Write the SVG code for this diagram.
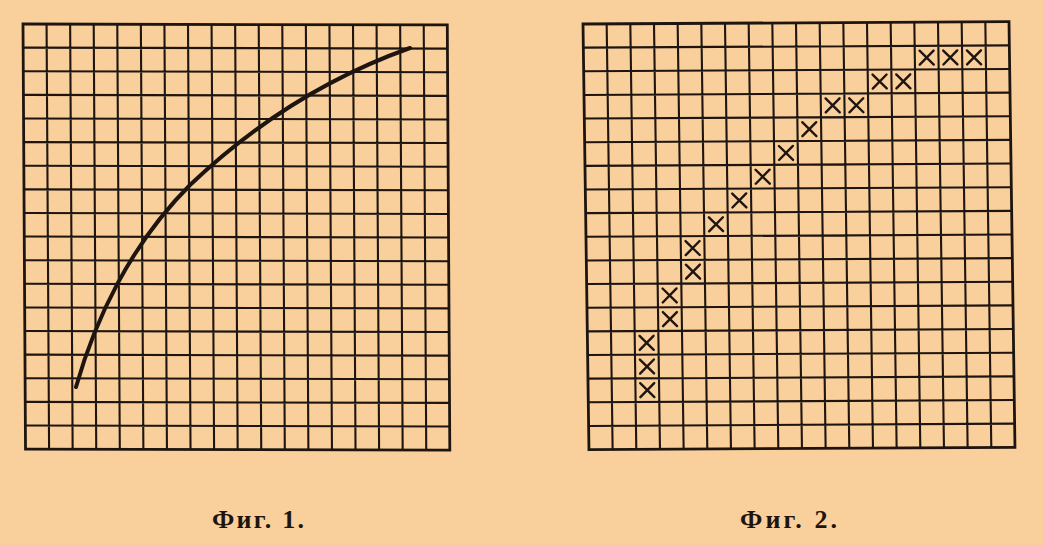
<svg xmlns="http://www.w3.org/2000/svg" xmlns:xlink="http://www.w3.org/1999/xlink" width="1043" height="545" viewBox="0 0 1043 545">
<style>
.grid{fill:none;stroke:#1e1510;stroke-width:2.1;}
.frame{fill:none;stroke:#1e1510;stroke-width:2.8;}
.cross{fill:none;stroke:#1e1510;stroke-width:2.4;stroke-linecap:round;}
.curve{fill:none;stroke:#1e1510;stroke-width:4;stroke-linecap:round;}
.cap{font-family:"Liberation Serif","DejaVu Serif",serif;font-weight:bold;font-size:26px;fill:#1e1510;}
</style>
<defs>
<path id="gridlines" d="M23.67,0V426M47.33,0V426M71,0V426M94.67,0V426M118.33,0V426M142,0V426M165.67,0V426M189.33,0V426M213,0V426M236.67,0V426M260.33,0V426M284,0V426M307.67,0V426M331.33,0V426M355,0V426M378.67,0V426M402.33,0V426M0,23.67H426M0,47.33H426M0,71H426M0,94.67H426M0,118.33H426M0,142H426M0,165.67H426M0,189.33H426M0,213H426M0,236.67H426M0,260.33H426M0,284H426M0,307.67H426M0,331.33H426M0,355H426M0,378.67H426M0,402.33H426"/>
<path id="x" d="M-7,-7L7,7M7,-7L-7,7"/>
</defs>
<rect x="0" y="0" width="1043" height="545" fill="#F9D09B"/>
<g id="fig1">
<g transform="matrix(0.996,0.0023,0.0059,0.998,23,24)">
<use xlink:href="#gridlines" class="grid"/>
<rect x="0" y="0" width="426" height="426" class="frame"/>
</g>
</g>
<g id="connectors">
<path class="curve" d="M76,387 C95,320 130,245 190,185 C250,128 320,80 410,48"/>
</g>
<g id="fig2">
<g transform="matrix(1.0,-0.0054,0.014,0.999,583,24)">
<use xlink:href="#gridlines" class="grid"/>
<rect x="0" y="0" width="426" height="426" class="frame"/>
<g class="cross">
<use xlink:href="#x" x="343.17" y="35.5"/>
<use xlink:href="#x" x="366.83" y="35.5"/>
<use xlink:href="#x" x="390.5" y="35.5"/>
<use xlink:href="#x" x="295.83" y="59.17"/>
<use xlink:href="#x" x="319.5" y="59.17"/>
<use xlink:href="#x" x="248.5" y="82.83"/>
<use xlink:href="#x" x="272.17" y="82.83"/>
<use xlink:href="#x" x="224.83" y="106.5"/>
<use xlink:href="#x" x="201.17" y="130.17"/>
<use xlink:href="#x" x="177.5" y="153.83"/>
<use xlink:href="#x" x="153.83" y="177.5"/>
<use xlink:href="#x" x="130.17" y="201.17"/>
<use xlink:href="#x" x="106.5" y="224.83"/>
<use xlink:href="#x" x="106.5" y="248.5"/>
<use xlink:href="#x" x="82.83" y="272.17"/>
<use xlink:href="#x" x="82.83" y="295.83"/>
<use xlink:href="#x" x="59.17" y="319.5"/>
<use xlink:href="#x" x="59.17" y="343.17"/>
<use xlink:href="#x" x="59.17" y="366.83"/>
</g>
</g>
</g>
<g id="caption1"><text class="cap" x="212" y="528" textLength="92" lengthAdjust="spacing">Фиг. 1.</text></g>
<g id="caption2"><text class="cap" x="740" y="528" textLength="97" lengthAdjust="spacing">Фиг. 2.</text></g>
</svg>
